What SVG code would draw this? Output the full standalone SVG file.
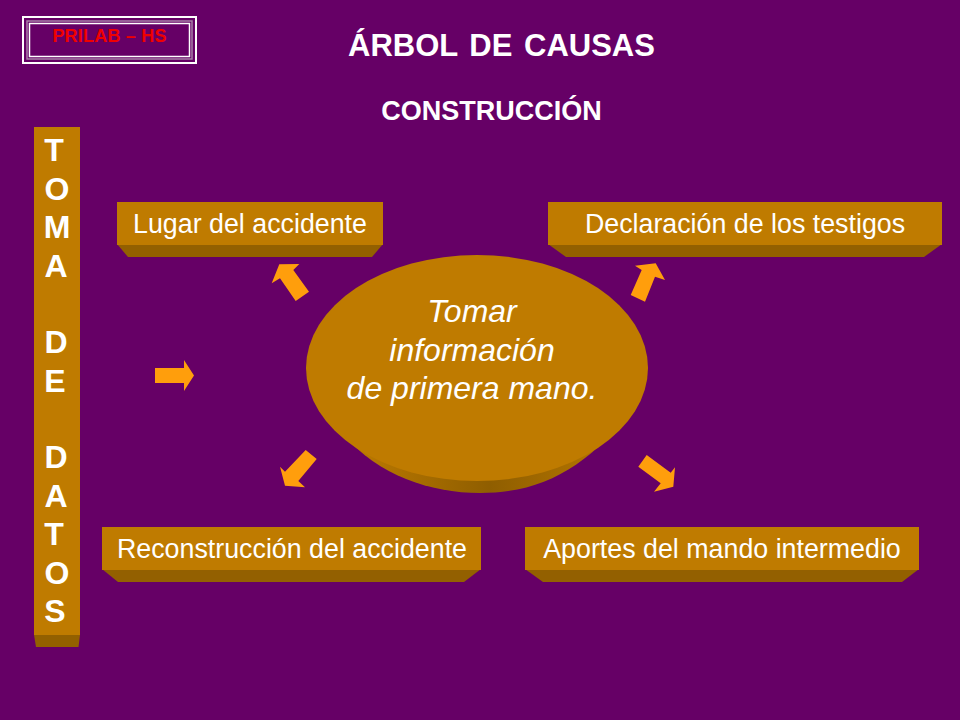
<svg xmlns="http://www.w3.org/2000/svg" width="960" height="720" viewBox="0 0 960 720">
<style>
.s{font-family:"Liberation Sans",Arial,sans-serif;fill:#fff}
.l{font-size:26.800px;text-anchor:middle}
.h{font-weight:bold;text-anchor:middle}
.face{fill:#bf7b00}
.side{fill:#936000}
.a{fill:#ff9e0c}
</style>
<defs>
<linearGradient id="g" x1="0" x2="1" y1="0" y2="0">
<stop offset="0" stop-color="#bf7b00"/><stop offset="0.5" stop-color="#8f5e00"/><stop offset="1" stop-color="#bf7b00"/>
</linearGradient>
</defs>
<rect width="960" height="720" fill="#660066"/>
<g id="logo">
<rect x="23" y="17" width="173" height="46" fill="none" stroke="#fff" stroke-width="2"/>
<rect x="27" y="21" width="165" height="38" fill="none" stroke="#a880a8" stroke-width="1.500"/>
<rect x="29.500" y="23.500" width="160" height="33" fill="none" stroke="#fff" stroke-width="1.500"/>
<text x="109.500" y="42" font-size="18" letter-spacing="0.200" text-anchor="middle" style="font-family:'Liberation Sans',Arial,sans-serif;font-weight:bold" fill="#f00000">PRILAB – HS</text>
</g>
<g id="titles">
<text class="s h" x="501.500" y="56" font-size="31" word-spacing="3">ÁRBOL DE CAUSAS</text>
<text class="s h" x="491.500" y="120" font-size="27">CONSTRUCCIÓN</text>
</g>
<g id="toma">
<polygon class="side" points="34,635 80,635 78.500,647 36,647"/>
<rect class="face" x="34" y="127" width="46" height="508"/>
<g class="s h" font-size="32">
<text x="54" y="161">T</text><text x="57" y="199.500">O</text><text x="57" y="238">M</text><text x="56" y="276.500">A</text>
<text x="56" y="353">D</text><text x="55" y="391.500">E</text>
<text x="56" y="468">D</text><text x="56" y="506.500">A</text><text x="54" y="545">T</text><text x="57" y="583.500">O</text><text x="55" y="622">S</text>
</g>
</g>
<g id="lugar">
<polygon class="side" points="117,244 383,244 372,257 128,257"/>
<rect class="face" x="117" y="202" width="266" height="43"/>
<text class="s l" x="250" y="232.500">Lugar del accidente</text>
</g>
<g id="declaracion">
<polygon class="side" points="548,244 942,244 924,257 566,257"/>
<rect class="face" x="548" y="202" width="394" height="43"/>
<text class="s l" x="745" y="232.500">Declaración de los testigos</text>
</g>
<g id="reconstruccion">
<polygon class="side" points="102,569 481,569 464,582 118,582"/>
<rect class="face" x="102" y="527" width="379" height="43"/>
<text class="s l" x="292" y="557.500">Reconstrucción del accidente</text>
</g>
<g id="aportes">
<polygon class="side" points="525,569 919,569 902,582 543,582"/>
<rect class="face" x="525" y="527" width="394" height="43"/>
<text class="s l" x="722" y="557.500">Aportes del mando intermedio</text>
</g>
<g id="centro">
<path d="M344,435C378,475 430,493 480,493C545,493 590,465 636,405L477,368Z" fill="url(#g)"/>
<ellipse class="face" cx="477" cy="368" rx="171" ry="113"/>
<g class="s" font-size="32" font-style="italic" text-anchor="middle">
<text x="472" y="322">Tomar</text>
<text x="472" y="361">información</text>
<text x="472" y="399">de primera mano.</text>
</g>
</g>
<g id="connectors">
<polygon class="a" points="155,368 184,368 184,360 194,375.500 184,391 184,383 155,383"/>
<polygon class="a" points="295.700,301 309,291.700 293.300,270 299.300,264 279.300,264.300 271.700,283.300 280,278.300"/>
<polygon class="a" points="630.700,295 645,301.700 655,276.700 665,280 655.700,263.300 635,265.700 641.700,270"/>
<polygon class="a" points="305.700,450 316.700,459 298.300,481 305,487.300 285,485.700 280,466.700 285,471.700"/>
<polygon class="a" points="646.700,455 638.300,466.700 660.700,483.300 654,491.700 673.300,486.700 675,467.300 670.700,472.700"/>
</g>
</svg>
